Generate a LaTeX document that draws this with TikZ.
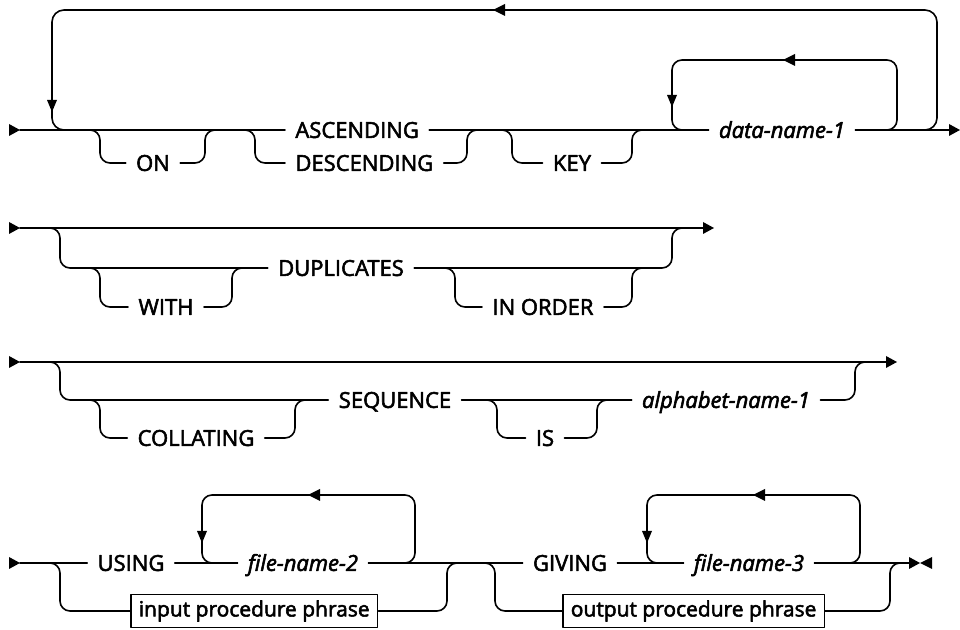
\documentclass[tikz,border=0pt]{standalone}
\usepackage{fontspec}
\setmainfont{Open Sans}[UprightFeatures={FakeBold=2.5},ItalicFeatures={FakeBold=2.5}]

\newcommand{\tipright}[2]{\fill (#1,#2) -- ++(-11,-6) -- ++(0,12) -- cycle;}
\newcommand{\tipleft}[2]{\fill (#1,#2) -- ++(12,-6) -- ++(0,12) -- cycle;}
\newcommand{\tipdown}[2]{\fill (#1,#2) -- ++(-5,-12) -- ++(10,0) -- cycle;}

\begin{document}
\begin{tikzpicture}[x=0.5pt,y=-0.5pt,line cap=round,line join=round,
    railline/.style={line width=0.8pt,rounded corners=5pt},
    keyword/.style={inner xsep=5pt,inner ysep=0pt,text height=7.9pt,text depth=0pt,
        font=\fontsize{11}{13}\selectfont},
    varname/.style={keyword,font=\fontsize{11}{13}\selectfont\itshape},
    procbox/.style={draw,line width=0.8pt,inner xsep=4pt,inner ysep=0pt,
        minimum height=16.5pt,font=\fontsize{10.5}{12}\selectfont}]
        \useasboundingbox (0,0) rectangle (960,630);

        \foreach \y in {130,228,362,563} {
            \tipright{20}{\y}
        }

        \node[keyword] (on) at (153,163) {ON};
        \node[keyword,anchor=west] (asc) at (285,130) {ASCENDING};
        \node[keyword,anchor=west] (desc) at (285,163) {DESCENDING};
        \node[keyword] (key) at (572,163) {KEY};
        \node[varname] (dn1) at (782,130) {data-name-1};

        \draw[railline] (20,130) -- (asc.west);
        \draw[railline] (asc.east) -- (dn1.west);
        \draw[railline] (dn1.east) -- (950,130);
        \draw[railline] (90,130) -- (100,130) -- (100,163) -- (on.west);
        \draw[railline] (on.east) -- (205,163) -- (205,130) -- (215,130);
        \draw[railline] (245,130) -- (255,130) -- (255,163) -- (desc.west);
        \draw[railline] (desc.east) -- (467,163) -- (467,130) -- (477,130);
        \draw[railline] (502,130) -- (512,130) -- (512,163) -- (key.west);
        \draw[railline] (key.east) -- (632,163) -- (632,130) -- (642,130);
        \draw[railline] (885,130) -- (897,130) -- (897,60) -- (672,60) -- (672,130) -- (684,130);
        \draw[railline,rounded corners=6pt] (922,130) -- (937,130) -- (937,10) -- (52,10) -- (52,130) -- (67,130);
        \tipleft{493}{10}
        \tipdown{52}{112}
        \tipleft{783}{60}
        \tipdown{672}{107}
        \tipright{960}{130}

        \node[keyword] (with) at (166,307) {WITH};
        \node[keyword] (dup) at (341,268) {DUPLICATES};
        \node[keyword] (inord) at (543,307) {IN ORDER};

        \draw[railline] (20,228) -- (704,228);
        \draw[railline] (50,228) -- (60,228) -- (60,268) -- (dup.west);
        \draw[railline] (90,268) -- (100,268) -- (100,307) -- (with.west);
        \draw[railline] (with.east) -- (232,307) -- (232,268) -- (242,268);
        \draw[railline] (445,268) -- (455,268) -- (455,307) -- (inord.west);
        \draw[railline] (inord.east) -- (632,307) -- (632,268) -- (642,268);
        \draw[railline] (dup.east) -- (672,268) -- (672,228) -- (684,228);
        \tipright{714}{228}

        \node[keyword] (coll) at (196,438) {COLLATING};
        \node[keyword] (seq) at (395,400) {SEQUENCE};
        \node[keyword] (is) at (545,438) {IS};
        \node[varname] (alph) at (726,400) {alphabet-name-1};

        \draw[railline] (20,362) -- (887,362);
        \draw[railline] (50,362) -- (60,362) -- (60,400) -- (seq.west);
        \draw[railline] (90,400) -- (100,400) -- (100,438) -- (coll.west);
        \draw[railline] (coll.east) -- (295,438) -- (295,400) -- (305,400);
        \draw[railline] (487,400) -- (497,400) -- (497,438) -- (is.west);
        \draw[railline] (is.east) -- (597,438) -- (597,400) -- (607,400);
        \draw[railline] (seq.east) -- (alph.west);
        \draw[railline] (alph.east) -- (855,400) -- (855,362) -- (865,362);
        \tipright{897}{362}

        \node[keyword] (using) at (131,563) {USING};
        \node[varname] (fn2) at (303,563) {file-name-2};
        \node[keyword] (giving) at (570,563) {GIVING};
        \node[varname] (fn3) at (749,563) {file-name-3};
        \node[procbox,anchor=west] (inproc) at (130,611) {input procedure phrase};
        \node[procbox,anchor=west] (outproc) at (562,611) {output procedure phrase};

        \draw[railline] (20,563) -- (using.west);
        \draw[railline] (using.east) -- (fn2.west);
        \draw[railline] (fn2.east) -- (giving.west);
        \draw[railline] (giving.east) -- (fn3.west);
        \draw[railline] (fn3.east) -- (910,563);
        \draw[railline] (50,563) -- (60,563) -- (60,611) -- (inproc.west);
        \draw[railline] (inproc.east) -- (447,611) -- (447,563) -- (457,563);
        \draw[railline] (485,563) -- (495,563) -- (495,611) -- (outproc.west);
        \draw[railline] (outproc.east) -- (890,611) -- (890,563) -- (900,563);
        \draw[railline] (403,563) -- (415,563) -- (415,495) -- (202,495) -- (202,563) -- (214,563);
        \draw[railline] (848,563) -- (860,563) -- (860,495) -- (647,495) -- (647,563) -- (659,563);
        \tipleft{308}{495}
        \tipdown{202}{543}
        \tipleft{753}{495}
        \tipdown{647}{543}
        \tipright{920}{563}
        \tipleft{920}{563}
    \end{tikzpicture}
\end{document}
